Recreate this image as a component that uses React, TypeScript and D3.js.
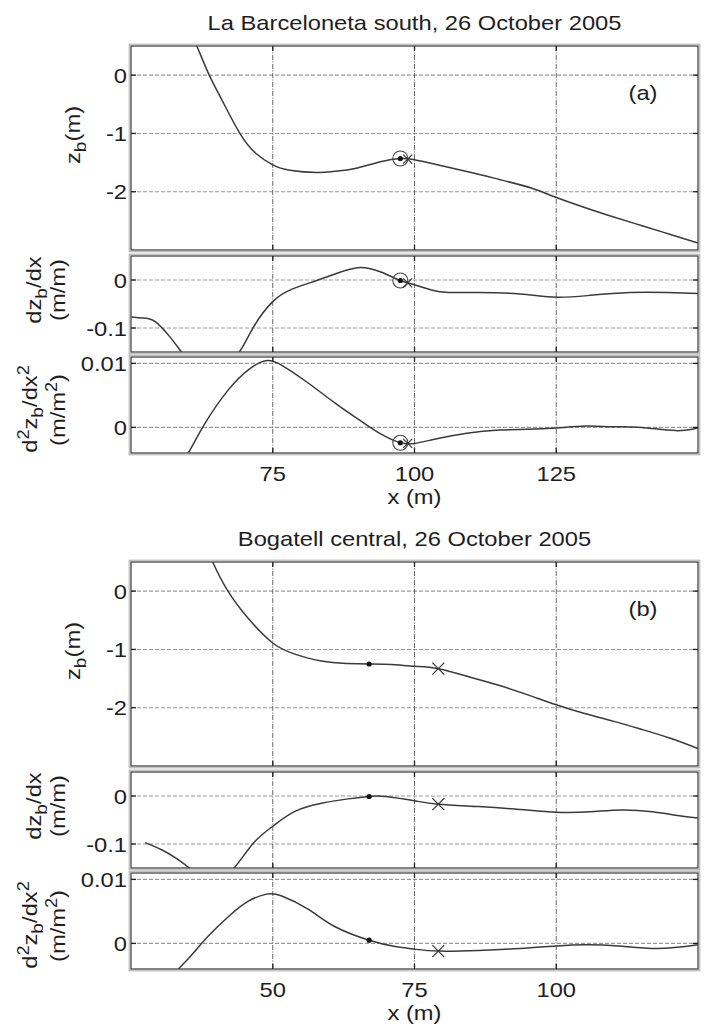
import React from 'react';
import * as d3 from 'd3';

// ---------- data ----------
const aTitle = 'La Barceloneta south, 26 October 2005';
const bTitle = 'Bogatell central, 26 October 2005';

const aXDomain = [50, 150];
const bXDomain = [25, 125];
const aXTicks = [75, 100, 125];
const bXTicks = [50, 75, 100];

const zbDomain = [-3, 0.5];
const dzDomain = [-0.15, 0.05];
const d2Domain = [-0.004, 0.011];
const zbTicks = [0, -1, -2];
const dzTicks = [0, -0.1];
const d2Ticks = [0.01, 0];

// (a) La Barceloneta south
const aZbX = [58, 61.6, 63.8, 66, 69.2, 72, 75, 78, 82.8, 86, 89.5, 94.2, 97.5, 100, 105, 110, 115, 120.7, 125, 130, 135, 140, 145, 150];
const aZbY = [1.3, 0.5, 0, -0.42, -1, -1.34, -1.54, -1.63, -1.67, -1.65, -1.6, -1.48, -1.43, -1.45, -1.56, -1.67, -1.79, -1.94, -2.1, -2.27, -2.43, -2.58, -2.73, -2.88];

const aDzX = [50, 52, 54.2, 56.9, 58.9, 61, 63.5, 66, 69.1, 71.6, 75, 78.4, 82.5, 86.6, 90.4, 94.2, 97.5, 100, 103, 106, 111.3, 118.6, 125, 131, 138, 144.5, 150];
const aDzY = [-0.077, -0.079, -0.086, -0.119, -0.15, -0.178, -0.195, -0.185, -0.15, -0.098, -0.045, -0.019, -0.002, 0.015, 0.026, 0.016, -0.001, -0.01, -0.021, -0.026, -0.026, -0.029, -0.036, -0.032, -0.026, -0.026, -0.028];

const aD2X = [58, 60.1, 63.1, 67.2, 70.7, 73.7, 76.6, 81.3, 86, 90.7, 94.2, 97.5, 100, 103.3, 109.2, 115, 120, 125, 130.2, 135, 140, 146, 150];
const aD2Y = [-0.0065, -0.004, 0.0007, 0.0059, 0.009, 0.0104, 0.0097, 0.0069, 0.0038, 0.0009, -0.0011, -0.0024, -0.0025, -0.0019, -0.0009, -0.0004, -0.0003, -0.0001, 0.0002, 0.0001, 0, -0.0005, -0.0001];

const aDotX = 97.5;
const aDotY = [-1.43, -0.001, -0.0024];
const aCrossX = 98.8;
const aCrossY = [-1.44, -0.006, -0.0025];

// (b) Bogatell central
const bZbX = [37, 39.4, 42.1, 45.7, 50, 53.9, 58.6, 63, 67, 71, 75, 79.2, 85, 90, 95, 100, 105, 110, 115, 120, 125];
const bZbY = [1.05, 0.5, 0, -0.47, -0.89, -1.08, -1.2, -1.24, -1.25, -1.26, -1.29, -1.33, -1.48, -1.62, -1.78, -1.95, -2.1, -2.23, -2.37, -2.52, -2.7];

const bDzX = [27.5, 30.4, 33, 35.3, 37.5, 40, 43.2, 46.6, 50, 53.9, 58.6, 63.3, 67, 69.9, 75, 79.2, 86.3, 93.6, 100, 106, 111.6, 117, 121, 125];
const bDzY = [-0.097, -0.112, -0.13, -0.15, -0.17, -0.178, -0.15, -0.098, -0.063, -0.032, -0.015, -0.006, -0.001, -0.001, -0.01, -0.017, -0.022, -0.028, -0.034, -0.033, -0.029, -0.033, -0.04, -0.046];

const bD2X = [31, 33.4, 35.7, 38.6, 42.2, 45.7, 48.9, 51.6, 56.3, 61, 67, 71.6, 75, 79.2, 86.3, 93.6, 100, 105.2, 111, 117.9, 125];
const bD2Y = [-0.0065, -0.004, -0.0018, 0.0011, 0.0042, 0.0066, 0.0077, 0.0074, 0.0053, 0.0026, 0.0005, -0.0005, -0.0009, -0.0012, -0.0011, -0.0008, -0.0004, -0.0002, -0.0004, -0.0008, -0.0002];

const bDotX = 67;
const bDotY = [-1.25, -0.001, 0.0005];
const bCrossX = 79.2;
const bCrossY = [-1.33, -0.017, -0.0012];

// ---------- layout ----------
const W = 707;
const H = 1026;
const PL = 131;
const PR = 698;
const FONT = '"Liberation Sans", Arial, Helvetica, sans-serif';
const SX = 1.13;
const TXT = '#1e1e1e';

let clipCounter = 0;

function SText({ x, y, anchor = 'middle', size = 21, rotate = false, children }: any) {
  const tr = `translate(${x},${y})${rotate ? ' rotate(-90)' : ''} scale(${SX},1)`;
  return (
    <g transform={tr}>
      <text textAnchor={anchor} fontSize={size} fontFamily={FONT} fill={TXT}>
        {children}
      </text>
    </g>
  );
}

function Cross({ cx, cy, s }: any) {
  return (
    <path
      d={`M${cx - s},${cy - s}L${cx + s},${cy + s}M${cx - s},${cy + s}L${cx + s},${cy - s}`}
      stroke="#333"
      strokeWidth={1.2}
      fill="none"
    />
  );
}

function Panel({ top, h, xDomain, yDomain, xs, ys, xTicks, yTicks, dotX, dotY, crossX, crossY, circle, crossSize }: any) {
  const id = `clip${clipCounter++}`;
  const x = d3.scaleLinear().domain(xDomain).range([PL, PR]);
  const y = d3.scaleLinear().domain(yDomain).range([top + h, top]);
  const pts = xs.map((v: number, i: number) => [v, ys[i]]);
  const line = d3
    .line<number[]>()
    .x((d) => x(d[0]))
    .y((d) => y(d[1]))
    .curve(d3.curveNatural);
  return (
    <g>
      <defs>
        <clipPath id={id}>
          <rect x={PL} y={top} width={PR - PL} height={h} />
        </clipPath>
      </defs>
      {yTicks.map((t: number) => (
        <line key={'hy' + t} x1={PL} x2={PR} y1={y(t)} y2={y(t)} stroke="#9a9a9a" strokeWidth={1.1} strokeDasharray="4,2" />
      ))}
      {xTicks.map((t: number) => (
        <line key={'vx' + t} x1={x(t)} x2={x(t)} y1={top} y2={top + h} stroke="#555" strokeWidth={0.9} strokeDasharray="5,1.5,1,1.5" />
      ))}
      <path d={line(pts) || ''} fill="none" stroke="#3a3a3a" strokeWidth={1.5} clipPath={`url(#${id})`} />
      {circle && <circle cx={x(dotX)} cy={y(dotY)} r={7.5} fill="none" stroke="#444" strokeWidth={1.1} />}
      <circle cx={x(dotX)} cy={y(dotY)} r={2.6} fill="#111" />
      <Cross cx={x(crossX)} cy={y(crossY)} s={crossSize} />
      <rect x={PL - 1.8} y={top - 1.8} width={PR - PL + 3.6} height={h + 3.6} fill="none" stroke="#aaa" strokeWidth={1} />
      <rect x={PL} y={top} width={PR - PL} height={h} fill="none" stroke="#444" strokeWidth={1.3} />
      {xTicks.map((t: number) => (
        <g key={'tx' + t}>
          <line x1={x(t)} x2={x(t)} y1={top} y2={top + 5} stroke="#222" strokeWidth={1.3} />
          <line x1={x(t)} x2={x(t)} y1={top + h} y2={top + h - 5} stroke="#222" strokeWidth={1.3} />
        </g>
      ))}
      {yTicks.map((t: number) => (
        <g key={'ty' + t}>
          <line x1={PL} x2={PL + 5} y1={y(t)} y2={y(t)} stroke="#222" strokeWidth={1.3} />
          <line x1={PR} x2={PR - 5} y1={y(t)} y2={y(t)} stroke="#222" strokeWidth={1.3} />
          <SText x={PL - 4} y={y(t) + 7.5} anchor="end">
            {String(t)}
          </SText>
        </g>
      ))}
    </g>
  );
}

function Group({ off, title, tag, xDomain, xTicks, zb, dz, d2, dotX, dotY, crossX, crossY, circle, crossSize }: any) {
  const x = d3.scaleLinear().domain(xDomain).range([PL, PR]);
  const cx = (PL + PR) / 2;
  return (
    <g>
      <SText x={cx} y={30 + off}>{title}</SText>
      <Panel top={46 + off} h={204} xDomain={xDomain} yDomain={zbDomain} xs={zb[0]} ys={zb[1]} xTicks={xTicks} yTicks={zbTicks}
        dotX={dotX} dotY={dotY[0]} crossX={crossX} crossY={crossY[0]} circle={circle} crossSize={crossSize} />
      <Panel top={256 + off} h={96} xDomain={xDomain} yDomain={dzDomain} xs={dz[0]} ys={dz[1]} xTicks={xTicks} yTicks={dzTicks}
        dotX={dotX} dotY={dotY[1]} crossX={crossX} crossY={crossY[1]} circle={circle} crossSize={crossSize} />
      <Panel top={357 + off} h={96} xDomain={xDomain} yDomain={d2Domain} xs={d2[0]} ys={d2[1]} xTicks={xTicks} yTicks={d2Ticks}
        dotX={dotX} dotY={dotY[2]} crossX={crossX} crossY={crossY[2]} circle={circle} crossSize={crossSize} />
      <SText x={643} y={100 + off}>{tag}</SText>
      {xTicks.map((t: number) => (
        <SText key={'xl' + t} x={x(t)} y={481 + off}>{String(t)}</SText>
      ))}
      <SText x={cx} y={504 + off}>x (m)</SText>
      {/* y labels */}
      <SText x={80} y={135 + off} rotate>
        z<tspan dy={6} fontSize={17}>b</tspan><tspan dy={-6}>(m)</tspan>
      </SText>
      <SText x={41} y={290 + off} rotate>
        dz<tspan dy={6} fontSize={17}>b</tspan><tspan dy={-6}>/dx</tspan>
      </SText>
      <SText x={65} y={290 + off} rotate>(m/m)</SText>
      <SText x={37} y={409 + off} rotate>
        d<tspan dy={-8} fontSize={16}>2</tspan><tspan dy={8}>z</tspan><tspan dy={6} fontSize={17}>b</tspan><tspan dy={-6}>/dx</tspan><tspan dy={-8} fontSize={16}>2</tspan>
      </SText>
      <SText x={65} y={410 + off} rotate>
        (m/m<tspan dy={-8} fontSize={16}>2</tspan><tspan dy={8}>)</tspan>
      </SText>
    </g>
  );
}

export default function App() {
  clipCounter = 0;
  return (
    <svg width={W} height={H} viewBox={`0 0 ${W} ${H}`} style={{ position: 'absolute', left: 0, top: 0, display: 'block', background: '#fff' }}>
      <rect x={0} y={0} width={W} height={H} fill="#fff" />
      <Group off={0} title={aTitle} tag="(a)" xDomain={aXDomain} xTicks={aXTicks}
        zb={[aZbX, aZbY]} dz={[aDzX, aDzY]} d2={[aD2X, aD2Y]}
        dotX={aDotX} dotY={aDotY} crossX={aCrossX} crossY={aCrossY} circle={true} crossSize={4.5} />
      <Group off={516} title={bTitle} tag="(b)" xDomain={bXDomain} xTicks={bXTicks}
        zb={[bZbX, bZbY]} dz={[bDzX, bDzY]} d2={[bD2X, bD2Y]}
        dotX={bDotX} dotY={bDotY} crossX={bCrossX} crossY={bCrossY} circle={false} crossSize={6} />
    </svg>
  );
}
